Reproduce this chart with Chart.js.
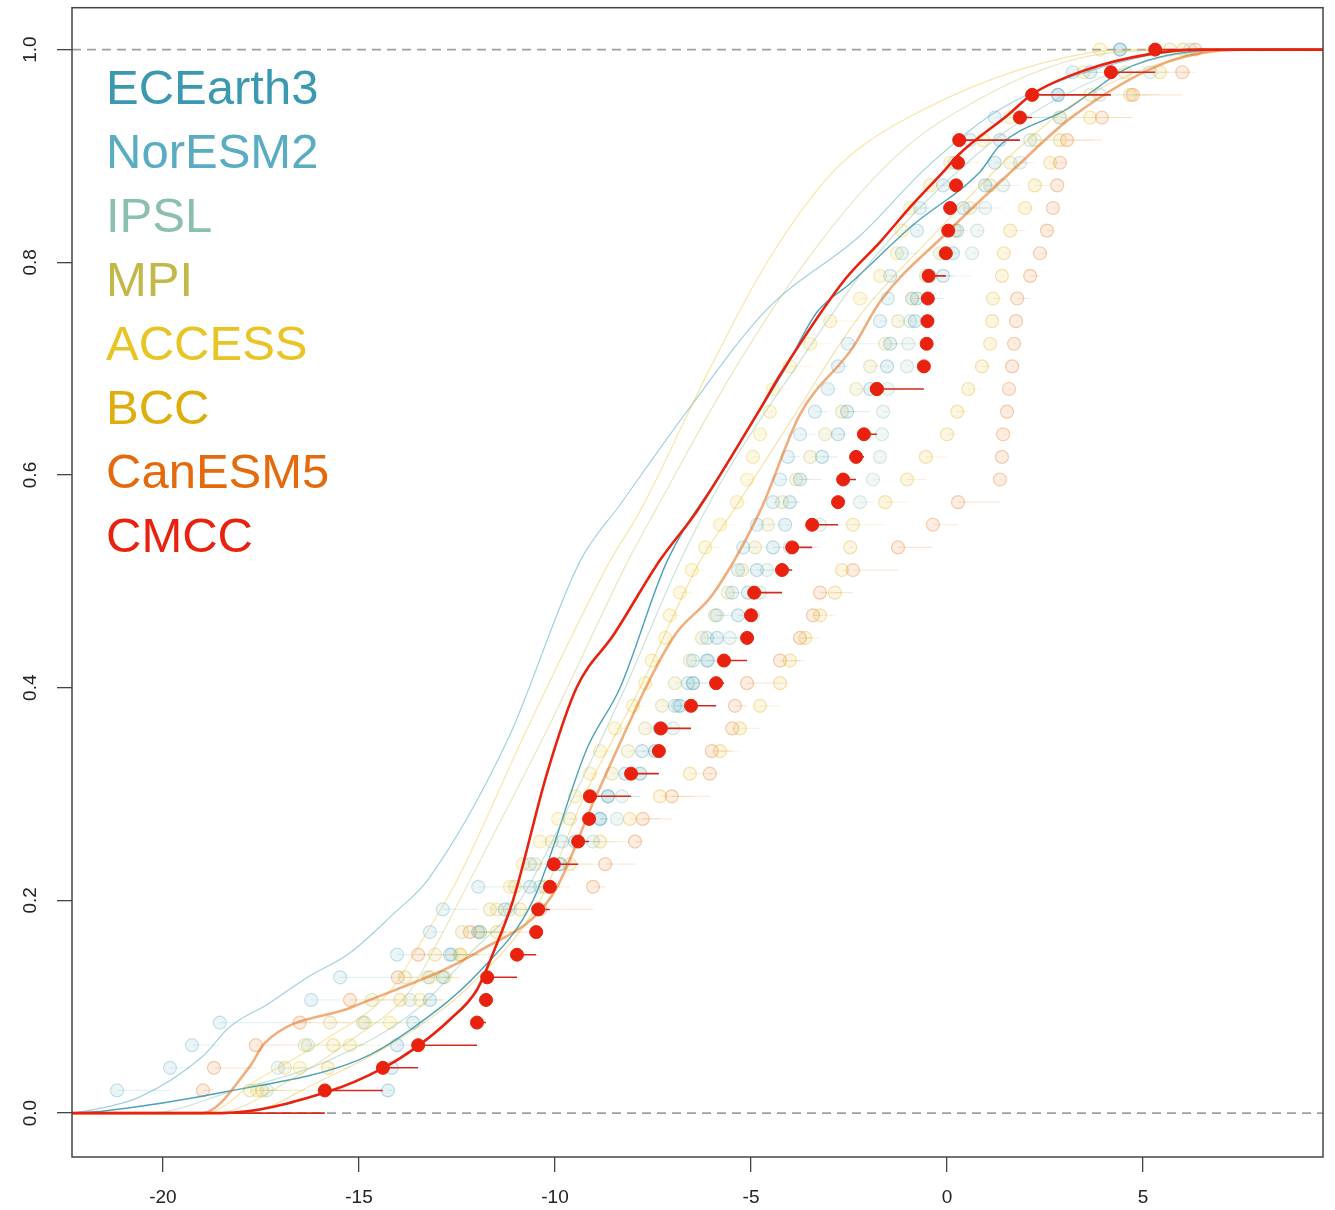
<!DOCTYPE html>
<html lang="en">
<head>
<meta charset="UTF-8">
<title>Model ECDFs</title>
<style>
  body { margin: 0; background: #fff; }
  #wrap { width: 1335px; height: 1210px; }
</style>
</head>
<body>
<div id="wrap"><canvas id="cdfChart" width="1335" height="1210"></canvas></div>
<script src="https://cdn.jsdelivr.net/npm/chart.js"></script>
<script>
// legend order and colours
const modelNames = ['ECEarth3', 'NorESM2', 'IPSL', 'MPI', 'ACCESS', 'BCC', 'CanESM5', 'CMCC'];
const modelColors = ['#3a98b0', '#5aacc2', '#8cbfb0', '#c2b84a', '#e9c425', '#e0ae0c', '#e56a0e', '#e8220e'];

// axes
const X_MIN = -22.32, X_MAX = 9.59;
const Y_MIN = -0.0413, Y_MAX = 1.0394;
const xTicks = [-20, -15, -10, -5, 0, 5];
const yTicks = [0, 0.2, 0.4, 0.6, 0.8, 1.0];
const yTickLabels = ['0.0', '0.2', '0.4', '0.6', '0.8', '1.0'];

// CMCC sample (red points), sorted
const cmccValues = [-15.87, -14.39, -13.49, -11.99, -11.76, -11.73, -10.97, -10.48, -10.43, -10.13,
  -10.03, -9.41, -9.13, -9.11, -8.06, -7.35, -7.30, -6.53, -5.89, -5.69,
  -5.10, -5.00, -4.92, -4.21, -3.95, -3.44, -2.78, -2.65, -2.32, -2.12,
  -1.79, -1.79, -0.59, -0.52, -0.50, -0.49, -0.47, -0.03, 0.03, 0.08,
  0.23, 0.28, 0.31, 1.86, 2.17, 4.18, 5.31];

// faint samples of the other models
const ecearth3Values = [-14.26, -14.16, -14.03, -13.62, -13.19, -12.86, -12.68, -11.96, -11.28, -10.64,
  -9.87, -9.49, -8.85, -8.65, -8.21, -7.78, -7.32, -6.81, -6.48, -6.12,
  -5.87, -5.33, -5.08, -4.85, -4.44, -4.13, -4.01, -3.75, -3.19, -2.78,
  -2.55, -1.96, -1.53, -1.45, -0.82, -0.77, -0.10, 0.15, 0.26, 0.41,
  0.97, 1.22, 1.35, 1.86, 2.83, 3.65, 4.41];
const noresm2Values = [-21.17, -19.82, -19.26, -18.55, -16.22, -15.48, -14.03, -13.19, -12.86, -11.96,
  -10.64, -9.82, -8.85, -8.65, -7.83, -7.45, -7.32, -6.94, -6.61, -6.48,
  -6.12, -5.87, -5.48, -5.33, -5.20, -4.85, -4.44, -4.26, -4.06, -3.75,
  -3.37, -3.04, -2.78, -2.53, -1.71, -1.51, -1.45, -1.15, -0.77, -0.69,
  -0.10, 0.20, 0.59, 1.22, 2.83, 3.21, 4.41];
const ipslValues = [-17.35, -17.07, -16.30, -14.90, -13.70, -13.24, -12.63, -11.91, -11.15, -10.38,
  -9.87, -9.03, -8.42, -8.29, -7.83, -7.45, -6.99, -6.86, -6.48, -6.10,
  -5.54, -4.95, -4.77, -4.59, -4.01, -3.24, -2.22, -1.89, -1.71, -1.66,
  -1.63, -1.51, -1.02, -0.99, -0.94, -0.89, -0.43, 0.64, 0.77, 0.97,
  1.43, 1.86, 2.12, 2.88, 3.90, 5.18, 6.20];
const mpiValues = [-17.78, -16.89, -16.38, -15.74, -14.67, -13.83, -13.06, -12.37, -11.66, -11.02,
  -10.51, -10.08, -9.62, -9.11, -8.55, -8.14, -7.70, -7.27, -6.94, -6.56,
  -6.25, -5.92, -5.59, -5.23, -4.90, -4.57, -4.21, -3.85, -3.49, -3.11,
  -2.68, -2.32, -1.96, -1.58, -1.25, -0.89, -0.54, -0.18, 0.20, 0.59,
  1.10, 1.61, 2.24, 2.88, 3.65, 4.54, 5.69];
const accessValues = [-17.60, -16.51, -15.23, -14.21, -13.44, -12.81, -12.42, -11.91, -11.48, -11.15,
  -10.82, -10.38, -9.92, -9.49, -9.11, -8.85, -8.47, -8.01, -7.70, -7.53,
  -7.19, -7.07, -6.81, -6.51, -6.17, -5.79, -5.36, -5.10, -4.95, -4.77,
  -4.52, -4.44, -4.01, -3.49, -2.98, -2.22, -1.71, -1.28, -1.15, -0.94,
  -0.43, 0.08, 0.92, 1.61, 2.19, 3.47, 3.90];
const bccValues = [-17.47, -15.79, -15.66, -14.85, -13.95, -13.19, -12.42, -11.48, -10.89, -10.26,
  -9.62, -8.85, -8.09, -7.32, -6.56, -5.79, -5.28, -4.77, -4.26, -4.01,
  -3.62, -3.24, -2.86, -2.68, -2.47, -2.40, -1.58, -1.02, -0.54, 0.00,
  0.26, 0.54, 0.89, 1.10, 1.15, 1.17, 1.40, 1.45, 1.61, 1.99,
  2.24, 2.63, 2.88, 3.65, 4.67, 5.43, 6.02];
const canesm5Values = [-18.98, -18.70, -17.63, -16.51, -15.23, -14.01, -13.49, -12.17, -10.38, -9.03,
  -8.72, -7.96, -7.76, -7.02, -6.05, -6.00, -5.48, -5.41, -5.10, -4.26,
  -3.75, -3.42, -3.24, -2.40, -1.25, -0.36, 0.28, 1.35, 1.40, 1.43,
  1.53, 1.58, 1.66, 1.71, 1.76, 1.79, 2.12, 2.37, 2.55, 2.70,
  2.81, 2.88, 3.06, 3.95, 4.74, 6.00, 6.33];

// CDF curves: x read at probability levels
const cmccCurveP = [0, 0, 0.02, 0.042, 0.063, 0.088, 0.116, 0.153, 0.2, 0.32, 0.40, 0.45, 0.52, 0.566, 0.662, 0.694, 0.784, 0.819, 0.854, 0.887, 0.90, 0.94, 0.958, 0.98, 0.996, 1.0, 1.0];
const cmccCurveX = [-22.32, -18.5, -15.8, -14.4, -13.5, -12.68, -11.99, -11.55, -11.07, -10.2, -9.45, -8.5, -7.32, -6.38, -4.77, -4.26, -2.6, -1.71, -0.89, -0.05, 0.26, 1.6, 2.17, 3.47, 5.2, 6.5, 9.59];
const ecearth3CurveP = [0, 0.002, 0.02, 0.05, 0.078, 0.134, 0.2, 0.343, 0.40, 0.519, 0.6, 0.7, 0.753, 0.78, 0.835, 0.885, 0.91, 0.944, 0.985, 1.0, 1.0];
const ecearth3CurveX = [-22.32, -21.5, -18.4, -15.0, -13.7, -11.9, -10.56, -9.18, -8.34, -7.14, -5.8, -4.13, -3.32, -2.47, -0.87, 0.84, 1.35, 3.06, 4.74, 7.7, 9.59];
const noresm2CurveP = [0, 0.003, 0.015, 0.053, 0.081, 0.103, 0.128, 0.15, 0.188, 0.219, 0.35, 0.519, 0.572, 0.66, 0.756, 0.825, 0.89, 0.944, 0.988, 1.0, 1.0];
const noresm2CurveX = [-22.32, -21.8, -20.6, -19.0, -18.3, -17.3, -16.3, -15.25, -14.1, -13.25, -11.22, -9.36, -8.34, -6.63, -4.59, -2.22, -0.5, 1.35, 4.4, 6.5, 9.59];
const ipslCurveP = [0, 0, 0.02, 0.05, 0.1, 0.15, 0.2, 0.3, 0.4, 0.519, 0.6, 0.7, 0.8, 0.9, 0.95, 0.99, 1.0, 1.0];
const ipslCurveX = [-22.32, -20.33, -18.29, -15.74, -13.44, -12.17, -10.89, -9.49, -8.21, -6.81, -5.66, -3.88, -1.96, 0.71, 2.63, 5.18, 7.22, 9.59];
const mpiCurveP = [0, 0, 0.031, 0.068, 0.115, 0.165, 0.219, 0.362, 0.519, 0.566, 0.70, 0.80, 0.885, 0.932, 0.997, 1.0, 1.0];
const mpiCurveX = [-22.32, -18.67, -16.76, -15.23, -13.7, -12.93, -12.17, -10.18, -8.14, -7.45, -5.41, -3.62, -1.71, -0.18, 4.16, 6.45, 9.59];
const accessCurveP = [0, 0, 0.031, 0.068, 0.115, 0.165, 0.219, 0.362, 0.519, 0.566, 0.70, 0.80, 0.885, 0.932, 0.997, 1.0, 1.0];
const accessCurveX = [-22.32, -18.9, -17.6, -15.9, -14.2, -13.35, -12.5, -10.7, -8.6, -7.83, -6.05, -4.59, -2.91, -1.2, 3.6, 5.0, 9.59];
const bccCurveP = [0, 0, 0.03, 0.07, 0.12, 0.2, 0.3, 0.4, 0.519, 0.566, 0.65, 0.75, 0.825, 0.9, 0.95, 0.99, 1.0, 1.0];
const bccCurveX = [-22.32, -18.0, -16.0, -13.95, -12.17, -10.38, -9.23, -7.83, -6.3, -5.46, -4.0, -2.22, -0.36, 1.61, 3.27, 5.69, 7.47, 9.59];
const canesm5CurveP = [0, 0, 0.043, 0.066, 0.10, 0.153, 0.206, 0.30, 0.447, 0.488, 0.566, 0.657, 0.72, 0.763, 0.828, 0.887, 0.937, 0.988, 1.0, 1.0];
const canesm5CurveX = [-22.32, -19.0, -17.8, -17.4, -15.15, -11.9, -10.05, -8.93, -6.99, -5.97, -4.77, -3.75, -2.4, -1.71, 0.0, 1.69, 3.2, 5.6, 7.5, 9.59];

function rgba(hex, a) {
  const n = parseInt(hex.slice(1), 16);
  return `rgba(${(n >> 16) & 255}, ${(n >> 8) & 255}, ${n & 255}, ${a})`;
}

function ecdfPoints(values) {
  const n = values.length;
  return values.map(v => ({ x: v, y: values.filter(w => w <= v).length / n }));
}

// horizontal steps only (no verticals), as R's plot.ecdf(verticals = FALSE)
function ecdfSegments(values, extend) {
  const pts = ecdfPoints(values);
  const out = [];
  if (extend) out.push({ x: X_MIN, y: 0 }, { x: values[0], y: 0 }, { x: values[0], y: null });
  pts.forEach((p, i) => {
    const next = i < pts.length - 1 ? pts[i + 1].x : (extend ? X_MAX : p.x);
    out.push({ x: p.x, y: p.y }, { x: next, y: p.y }, { x: next, y: null });
  });
  return out;
}

function curve(xs, ps) {
  return xs.map((x, i) => ({ x: x, y: ps[i] }));
}

const faintSamples = [ecearth3Values, noresm2Values, ipslValues, mpiValues, accessValues, bccValues, canesm5Values];
const curves = [
  [ecearth3CurveX, ecearth3CurveP], [noresm2CurveX, noresm2CurveP], [ipslCurveX, ipslCurveP],
  [mpiCurveX, mpiCurveP], [accessCurveX, accessCurveP], [bccCurveX, bccCurveP], [canesm5CurveX, canesm5CurveP]
];
const curveStyle = [
  { a: 0.9, w: 1.4 }, { a: 0.55, w: 1.2 }, { a: 0.45, w: 1.2 }, { a: 0.35, w: 1.2 },
  { a: 0.4, w: 1.2 }, { a: 0.35, w: 1.2 }, { a: 0.55, w: 2.6 }
];

const datasets = [];

faintSamples.forEach((vals, m) => {
  const col = modelColors[m];
  datasets.push({
    data: ecdfSegments(vals, false), showLine: true, spanGaps: false,
    borderColor: rgba(col, 0.16), borderWidth: 1.2, pointRadius: 0, order: 60
  });
  datasets.push({
    data: ecdfPoints(vals), showLine: false,
    pointRadius: 6.5, pointBackgroundColor: rgba(col, 0.12),
    pointBorderColor: rgba(col, 0.32), pointBorderWidth: 1.2, order: 50
  });
});

// reference lines at 0 and 1
[0, 1].forEach(level => {
  datasets.push({
    data: [{ x: X_MIN, y: level }, { x: X_MAX, y: level }], showLine: true,
    borderColor: '#a0a0a0', borderWidth: 1.6, borderDash: [9, 6], pointRadius: 0, order: 40
  });
});

curves.forEach((c, m) => {
  datasets.push({
    data: curve(c[0], c[1]), showLine: true, cubicInterpolationMode: 'monotone',
    borderColor: rgba(modelColors[m], curveStyle[m].a), borderWidth: curveStyle[m].w,
    pointRadius: 0, order: 30 - m
  });
});

const red = modelColors[7];
datasets.push({
  data: ecdfSegments(cmccValues, true), showLine: true, spanGaps: false,
  borderColor: '#d42a1e', borderWidth: 1.6, pointRadius: 0, order: 3
});
datasets.push({
  data: curve(cmccCurveX, cmccCurveP), showLine: true, cubicInterpolationMode: 'monotone',
  borderColor: red, borderWidth: 2.6, pointRadius: 0, order: 2
});
datasets.push({
  data: ecdfPoints(cmccValues), showLine: false,
  pointRadius: 6.5, pointBackgroundColor: red, pointBorderColor: red, pointBorderWidth: 1, order: 1
});

// box, rotated y labels and coloured model names
const framePlugin = {
  id: 'frame',
  afterDraw(chart) {
    const ctx = chart.ctx;
    const a = chart.chartArea;
    ctx.save();
    ctx.strokeStyle = '#444';
    ctx.lineWidth = 1.5;
    ctx.strokeRect(a.left, a.top, a.right - a.left, a.bottom - a.top);

    ctx.fillStyle = '#222';
    ctx.font = '19px "Liberation Sans", Arial, sans-serif';
    ctx.textAlign = 'center';
    ctx.textBaseline = 'middle';
    yTicks.forEach((v, i) => {
      const y = chart.scales.y.getPixelForValue(v);
      ctx.save();
      ctx.translate(31, y);
      ctx.rotate(-Math.PI / 2);
      ctx.fillText(yTickLabels[i], 0, 0);
      ctx.restore();
    });

    ctx.font = '49px "Liberation Sans", Arial, sans-serif';
    ctx.textAlign = 'left';
    ctx.textBaseline = 'alphabetic';
    modelNames.forEach((name, i) => {
      ctx.fillStyle = modelColors[i];
      ctx.fillText(name, 106, 104 + i * 64);
    });
    ctx.restore();
  }
};

const tickGrid = { drawOnChartArea: false, drawTicks: true, tickLength: 15, color: '#444', lineWidth: 1.3 };

new Chart(document.getElementById('cdfChart'), {
  type: 'scatter',
  data: { datasets: datasets },
  options: {
    responsive: false,
    animation: false,
    layout: { padding: { top: 5, right: 12, left: 0, bottom: 0 } },
    plugins: { legend: { display: false }, tooltip: { enabled: false } },
    scales: {
      x: {
        type: 'linear', min: X_MIN, max: X_MAX,
        afterBuildTicks: s => { s.ticks = xTicks.map(v => ({ value: v })); },
        afterFit: s => { s.height = 53; },
        grid: tickGrid,
        border: { display: false },
        ticks: {
          autoSkip: false, maxRotation: 0, padding: 14, color: '#222',
          font: { family: '"Liberation Sans", Arial, sans-serif', size: 19 },
          callback: v => String(v)
        }
      },
      y: {
        type: 'linear', min: Y_MIN, max: Y_MAX,
        afterBuildTicks: s => { s.ticks = yTicks.map(v => ({ value: v })); },
        afterFit: s => { s.width = 72; },
        grid: tickGrid,
        border: { display: false },
        ticks: { display: false }
      }
    }
  },
  plugins: [framePlugin]
});
</script>
</body>
</html>
